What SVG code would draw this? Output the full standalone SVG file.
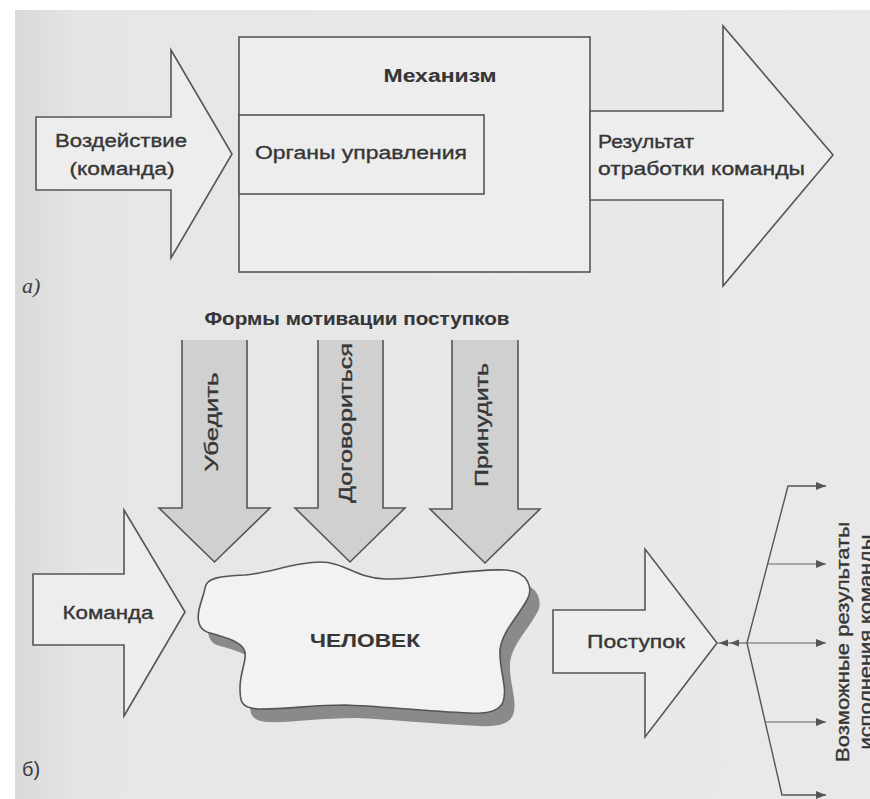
<svg xmlns="http://www.w3.org/2000/svg" width="870" height="799" viewBox="0 0 870 799">
<defs>
<linearGradient id="bg" x1="0" y1="0" x2="1" y2="0">
<stop offset="0" stop-color="#d9d9d9"/>
<stop offset="0.08" stop-color="#e6e6e6"/>
<stop offset="1" stop-color="#e9e9e9"/>
</linearGradient>
<marker id="ah" viewBox="0 0 10 8" refX="10" refY="4" markerWidth="10" markerHeight="8" markerUnits="userSpaceOnUse" orient="auto">
<path d="M0,0 L10,4 L0,8 Z" fill="#555"/>
</marker>
</defs>
<style>
.shape{fill:#ededed;stroke:#555;stroke-width:1.6;stroke-linejoin:miter}
.down{fill:#d0d0d0;stroke:none}
.downline{fill:none;stroke:#555;stroke-width:1.6}
.t{font-family:"Liberation Sans",Arial,sans-serif;font-size:18px;fill:#363636;stroke:#363636;stroke-width:0.35}
.b{font-weight:bold;stroke-width:0.1}
.con{fill:none;stroke:#555;stroke-width:1.4}
.thin{fill:none;stroke:#666;stroke-width:1.2}
</style>
<rect x="0" y="0" width="870" height="799" fill="#ffffff"/>
<rect x="15" y="10" width="855" height="789" fill="url(#bg)"/>

<!-- Part a -->
<g id="a-input">
<polygon class="shape" points="36,117 171,117 171,50 232,154 171,258 171,190 36,190"/>
<text class="t" x="121" y="147" text-anchor="middle" textLength="132" lengthAdjust="spacingAndGlyphs">Воздействие</text>
<text class="t" x="122" y="175" text-anchor="middle" textLength="105" lengthAdjust="spacingAndGlyphs">(команда)</text>
</g>
<g id="a-mechanism">
<rect class="shape" x="239" y="37" width="351" height="235"/>
<text class="t b" x="440" y="82" text-anchor="middle" textLength="113" lengthAdjust="spacingAndGlyphs">Механизм</text>
</g>
<g id="a-controls">
<rect class="shape" x="239" y="115" width="245" height="79"/>
<text class="t" x="361" y="159" text-anchor="middle" textLength="212" lengthAdjust="spacingAndGlyphs">Органы управления</text>
</g>
<g id="a-result">
<polygon class="shape" points="590,111 723,111 723,26 833,155 723,286 723,200 590,200"/>
<text class="t" x="598" y="148" textLength="96" lengthAdjust="spacingAndGlyphs">Результат</text>
<text class="t" x="598" y="175" textLength="207" lengthAdjust="spacingAndGlyphs">отработки команды</text>
</g>
<text x="22" y="293" font-family="'Liberation Serif',serif" font-style="italic" font-size="22" fill="#3c3c3c">а)</text>

<!-- Part b -->
<g id="b-title">
<text class="t b" x="357" y="325" text-anchor="middle" textLength="305" lengthAdjust="spacingAndGlyphs">Формы мотивации поступков</text>
</g>
<g id="b-convince">
<polygon class="down" points="182,340 247,340 247,508 270,508 214.5,562 159,508 182,508"/>
<polyline class="downline" points="182,340 182,508 159,508 214.5,562 270,508 247,508 247,340"/>
<text class="t" transform="translate(218,422) rotate(-90)" text-anchor="middle" textLength="99" lengthAdjust="spacingAndGlyphs">Убедить</text>
</g>
<g id="b-agree">
<polygon class="down" points="318,340 383,340 383,508 405,508 350,562 295,508 318,508"/>
<polyline class="downline" points="318,340 318,508 295,508 350,562 405,508 383,508 383,340"/>
<text class="t" transform="translate(352,423) rotate(-90)" text-anchor="middle" textLength="160" lengthAdjust="spacingAndGlyphs">Договориться</text>
</g>
<g id="b-force">
<polygon class="down" points="452,340 518,340 518,509 540,509 485,563 430,509 452,509"/>
<polyline class="downline" points="452,340 452,509 430,509 485,563 540,509 518,509 518,340"/>
<text class="t" transform="translate(488,425) rotate(-90)" text-anchor="middle" textLength="124" lengthAdjust="spacingAndGlyphs">Принудить</text>
</g>
<g id="b-command">
<polygon class="shape" points="33,574 124,574 124,510 185,612 124,716 124,645 33,645"/>
<text class="t" x="108" y="619" text-anchor="middle" textLength="91" lengthAdjust="spacingAndGlyphs">Команда</text>
</g>
<g id="b-human">
<path fill="#8a8a8a" transform="translate(10,13)" d="M205,588 C206,578 220,576 245,575 C270,573 295,562 320,562 C345,562 355,578 385,579 C420,580 470,568 505,570 C530,571 533,590 527,600 C517,618 502,632 500,650 C499,670 508,688 503,702 C499,712 485,714 470,713 C420,711 380,706 345,705 C310,705 280,710 258,709 C240,708 240,700 240,688 C240,672 247,660 245,652 C243,642 225,637 210,633 C198,630 197,620 199,610 C201,600 204,595 205,588 Z"/>
<path fill="#f2f2f2" stroke="#555" stroke-width="1.6" d="M205,588 C206,578 220,576 245,575 C270,573 295,562 320,562 C345,562 355,578 385,579 C420,580 470,568 505,570 C530,571 533,590 527,600 C517,618 502,632 500,650 C499,670 508,688 503,702 C499,712 485,714 470,713 C420,711 380,706 345,705 C310,705 280,710 258,709 C240,708 240,700 240,688 C240,672 247,660 245,652 C243,642 225,637 210,633 C198,630 197,620 199,610 C201,600 204,595 205,588 Z"/>
<text class="t b" x="365" y="647" text-anchor="middle" textLength="110" lengthAdjust="spacingAndGlyphs">ЧЕЛОВЕК</text>
</g>
<g id="b-action">
<polygon class="shape" points="553,610 645,610 645,549 717,643 645,737 645,673 553,673"/>
<text class="t" x="636" y="648" text-anchor="middle" textLength="98" lengthAdjust="spacingAndGlyphs">Поступок</text>
</g>
<g id="connectors">
<line class="thin" x1="718" y1="643" x2="747" y2="643"/>
<path d="M719,643 L728,639.5 L728,646.5 Z" fill="#555"/>
<path d="M730,643 L739,639.5 L739,646.5 Z" fill="#555"/>
<polyline class="con" points="747,643 788,486 826,486" marker-end="url(#ah)"/>
<polyline class="con" points="747,643 782,795 826,795" marker-end="url(#ah)"/>
<line class="thin" x1="767" y1="564" x2="826" y2="564" marker-end="url(#ah)"/>
<line class="thin" x1="747" y1="643" x2="826" y2="643" marker-end="url(#ah)"/>
<line class="thin" x1="766" y1="722" x2="826" y2="722" marker-end="url(#ah)"/>
</g>
<g id="b-results">
<text class="t" transform="translate(849,642) rotate(-90)" text-anchor="middle" textLength="240" lengthAdjust="spacingAndGlyphs">Возможные результаты</text>
<text class="t" transform="translate(872,642) rotate(-90)" text-anchor="middle" textLength="215" lengthAdjust="spacingAndGlyphs">исполнения команды</text>
</g>
<text x="22" y="776" font-family="'Liberation Sans',sans-serif" font-size="20" fill="#3c3c3c">б)</text>
</svg>
